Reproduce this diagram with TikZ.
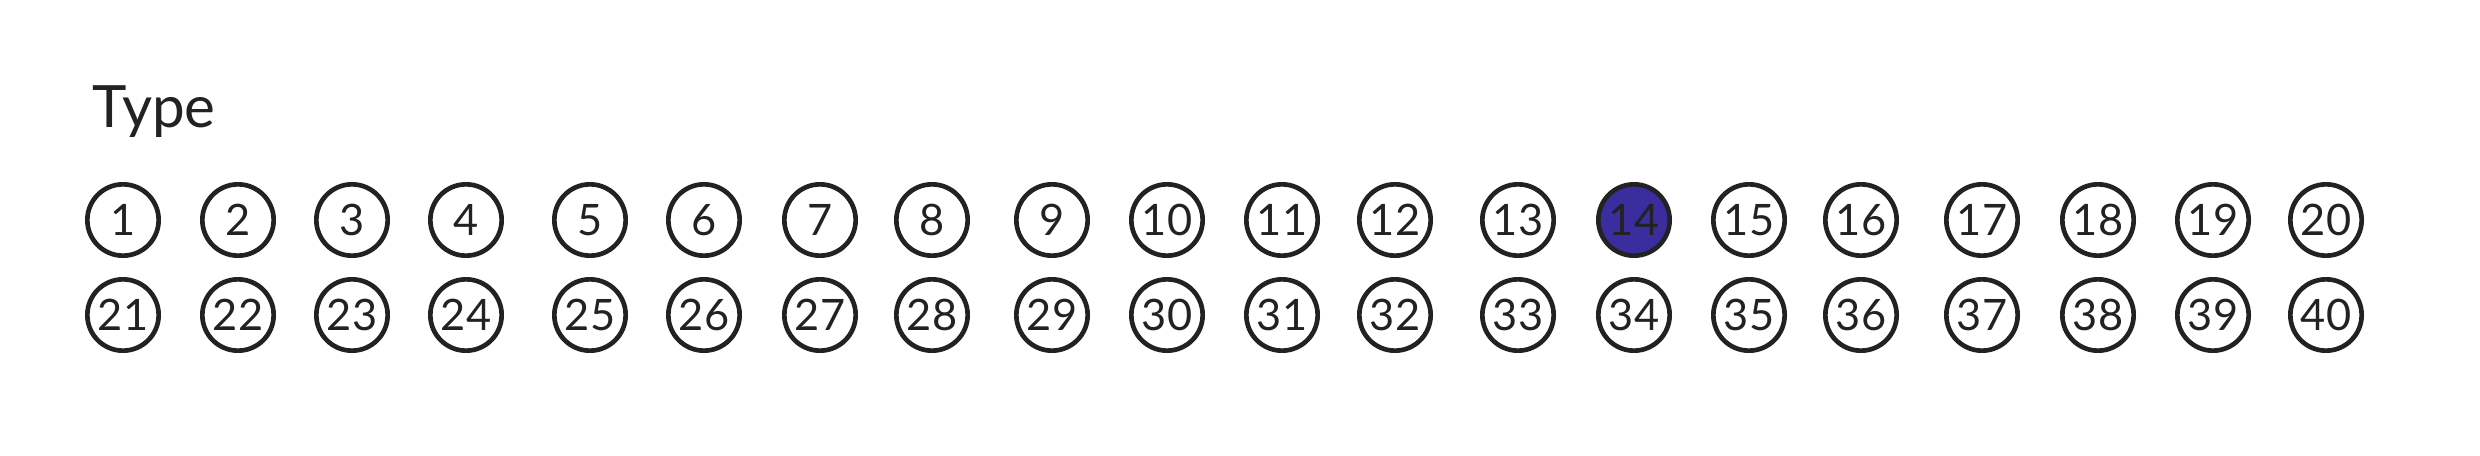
\documentclass[tikz,border=0pt]{standalone}
\usepackage{fontspec}
\setmainfont{Lato}
\definecolor{ink}{RGB}{34,34,34}
\definecolor{mark}{RGB}{58,46,158}
\begin{document}
\begin{tikzpicture}[x=0.3pt,y=-0.3pt,
  bubble/.style={circle,draw=ink,line width=1.4pt,minimum size=21.4pt,inner sep=0pt,
    text=ink,font=\fontsize{13}{13}\selectfont},
  marked/.style={bubble,fill=mark},
  title/.style={anchor=base west,inner sep=0pt,text=ink,font=\fontsize{17.5}{17.5}\selectfont}]
\useasboundingbox (0,0) rectangle (2480,456);
\node[title] (type) at (92,128) {Type};
\foreach \i/\x in {1/123,2/238,3/352,4/466,5/590,6/704,7/820,8/932,9/1052,10/1167,11/1282,12/1395,13/1518,14/1634,15/1749,16/1861,17/1982,18/2098,19/2213,20/2326}{
  \pgfmathtruncatemacro{\j}{\i+20}
  \ifnum\i=14
    \node[marked] (b\i) at (\x,220) {\i};
  \else
    \node[bubble] (b\i) at (\x,220) {\i};
  \fi
  \node[bubble] (b\j) at (\x,315) {\j};
}
\end{tikzpicture}
\end{document}
